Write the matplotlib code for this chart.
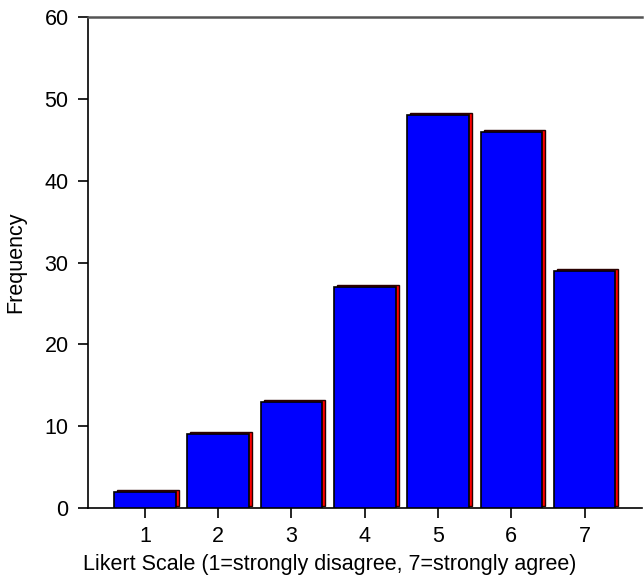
import matplotlib
matplotlib.use("Agg")
import matplotlib.pyplot as plt
from matplotlib.transforms import ScaledTranslation

categories = [1, 2, 3, 4, 5, 6, 7]
frequency = [2, 9, 13, 27, 48, 46, 29]
yticks = [0, 10, 20, 30, 40, 50, 60]

plt.rcParams['font.family'] = ['Liberation Sans', 'DejaVu Sans']

dpi = 100
fig = plt.figure(figsize=(6.44, 5.81), dpi=dpi)
ax = fig.add_axes([0.1366, 0.1256, 0.860, 0.845])

width = 0.84
shift = ax.transData + ScaledTranslation(3 / dpi, 2 / dpi, fig.dpi_scale_trans)
ax.bar(categories, frequency, width=width, color='#ff0000', edgecolor='#2a0000',
       linewidth=1.0, transform=shift, zorder=2)
ax.bar(categories, frequency, width=width, color='#0000ff', edgecolor='black',
       linewidth=1.2, zorder=3)

ax.set_xlim(0.224, 7.78)
ax.set_ylim(0, 60)
ax.set_xticks(categories)
ax.set_yticks(yticks)
ax.tick_params(axis='both', labelsize=15.5, direction='out', length=7, width=1.2)
ax.tick_params(axis='y', pad=7)
ax.tick_params(axis='x', pad=6)
ax.spines['right'].set_visible(False)
ax.spines['top'].set_color('#555555')
ax.spines['top'].set_linewidth(1.8)
ax.spines['left'].set_linewidth(1.2)
ax.spines['bottom'].set_linewidth(1.2)
ax.set_xlabel('Likert Scale (1=strongly disagree, 7=strongly agree)', fontsize=15.5)
ax.xaxis.set_label_coords(0.437, -0.094)
ax.set_ylabel('Frequency', fontsize=15.5)
ax.yaxis.set_label_coords(-0.112, 0.5)

fig.savefig('out.png', dpi=dpi)
